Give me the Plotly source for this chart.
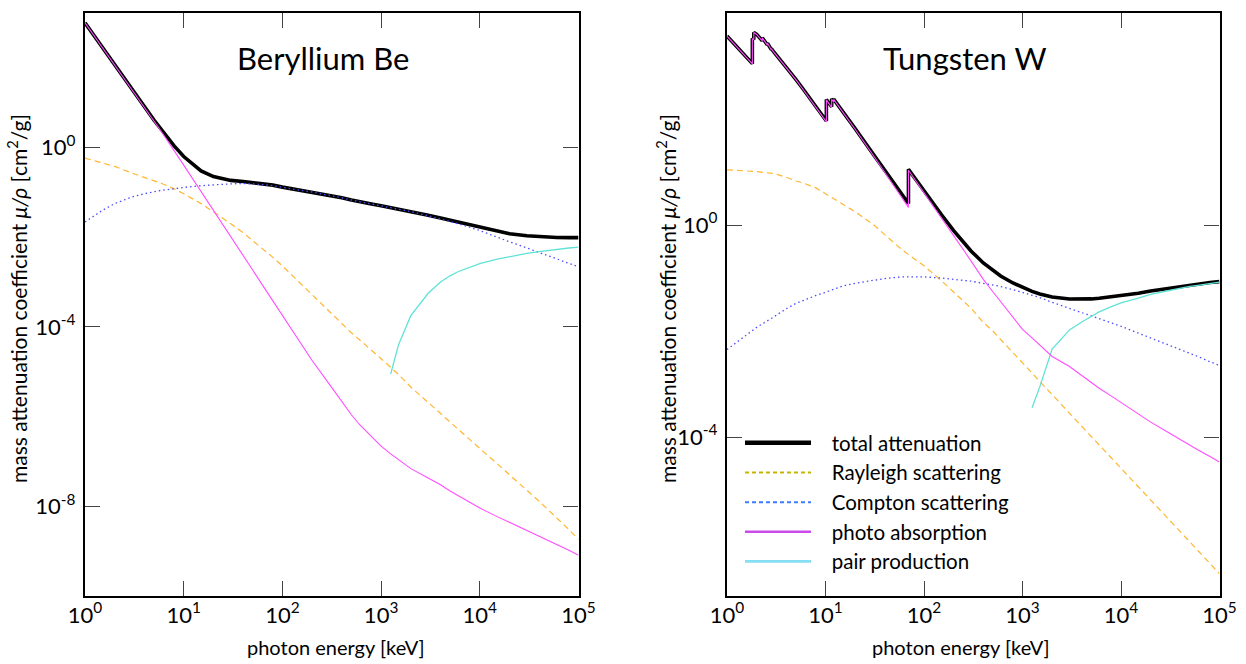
import plotly.graph_objects as go

# ---------------- data (photon energy in keV, mass attenuation in cm^2/g) ----------------
E = [1, 1.5, 2, 3, 4, 5, 6, 8, 10, 15, 20, 30, 40, 50, 60, 80, 100, 150, 200, 300, 400, 500,
     600, 800, 1000, 1250, 1500, 2000, 3000, 4000, 5000, 6000, 8000, 10000, 15000, 20000,
     30000, 40000, 50000, 60000, 80000, 100000]
E_pair = [1250, 1500, 2000, 3000, 4000, 5000, 6000, 8000, 10000, 15000, 20000,
          30000, 40000, 50000, 60000, 80000, 100000]

# Beryllium
be_total = [604, 170.5, 68.0, 19.4, 8.07, 4.09, 2.46, 1.09, 0.629, 0.302, 0.225, 0.185, 0.1745,
            0.165, 0.158, 0.145, 0.131, 0.113, 0.1024, 0.0873, 0.0760, 0.0677, 0.0617, 0.0550,
            0.0501, 0.0457, 0.0427, 0.0374, 0.0308, 0.0267, 0.0238, 0.0217, 0.0187, 0.0167,
            0.0135, 0.0120, 0.0108, 0.0103, 0.0100, 0.0099, 0.0098, 0.0098]
be_rayleigh = [0.579, 0.457, 0.380, 0.269, 0.219, 0.186, 0.158, 0.120, 0.0933, 0.0562, 0.0372,
               0.0200, 0.0126, 0.00851, 0.00603, 0.00355, 0.00229, 9.55e-4, 5.13e-4, 2.14e-4,
               1.15e-4, 7.41e-5, 5.25e-5, 3.09e-5, 1.95e-5, 1.26e-5, 8.71e-6, 4.57e-6, 2.04e-6,
               1.17e-6, 7.59e-7, 5.25e-7, 3.02e-7, 1.95e-7, 8.91e-8, 5.13e-8, 2.29e-8, 1.29e-8,
               8.13e-9, 5.62e-9, 3.02e-9, 1.82e-9]
be_compton = [0.0219, 0.0398, 0.0562, 0.0794, 0.0933, 0.105, 0.112, 0.120, 0.129, 0.141, 0.148,
              0.155, 0.158, 0.155, 0.151, 0.141, 0.129, 0.112, 0.102, 0.0871, 0.0759, 0.0676,
              0.0617, 0.0550, 0.0501, 0.0457, 0.0427, 0.0372, 0.0302, 0.0257, 0.0224, 0.0200,
              0.0166, 0.0141, 0.0100, 0.00794, 0.00575, 0.00457, 0.00372, 0.00324, 0.00257, 0.00219]
be_photo = [603, 170, 67.6, 19.1, 7.76, 3.80, 2.19, 0.851, 0.407, 0.105, 0.0398, 0.0102, 0.00389,
            0.00186, 0.00100, 3.80e-4, 1.82e-4, 4.68e-5, 1.78e-5, 5.25e-6, 2.19e-6, 1.10e-6,
            6.76e-7, 3.63e-7, 2.19e-7, 1.48e-7, 1.10e-7, 6.92e-8, 4.27e-8, 3.02e-8, 2.19e-8,
            1.74e-8, 1.17e-8, 9.12e-9, 5.89e-9, 4.37e-9, 2.95e-9, 2.19e-9, 1.74e-9, 1.45e-9,
            1.05e-9, 8.13e-10]
be_pair = [8.91e-6, 3.98e-5, 1.78e-4, 5.62e-4, 1.00e-3, 1.38e-3, 1.70e-3, 2.14e-3, 2.57e-3,
           3.24e-3, 3.72e-3, 4.37e-3, 4.79e-3, 5.13e-3, 5.37e-3, 5.75e-3, 6.03e-3]

# Tungsten (energy grid with absorption edges)
E_w = [1, 1.5, 1.8092, 1.8092, 1.8716, 1.8716, 2, 2.2813, 2.2813, 2.5749, 2.5749, 2.8196, 2.8196,
       3, 4, 5, 6, 8, 10, 10.2068, 10.2068, 11.544, 11.544, 12.0998, 12.0998, 15, 20, 30, 40,
       50, 60, 69.525, 69.525, 80, 100, 150, 200, 300, 400, 500, 600, 800, 1000, 1250, 1500,
       2000, 3000, 4000, 5000, 6000, 8000, 10000, 15000, 20000, 30000, 40000, 50000, 60000,
       80000, 100000]
w_total = [3683, 1643, 1108, 3300, 3150, 4300, 3950, 2990, 3400, 2490, 2690, 2040, 2140, 1820,
           960, 560, 356, 170, 96.9, 91.7, 233, 170, 240, 212, 237, 138.9, 65.7, 22.7, 10.67,
           5.95, 3.71, 2.55, 11.23, 7.81, 4.44, 1.58, 0.784, 0.324, 0.1925, 0.1378, 0.1093,
           0.0807, 0.0662, 0.0560, 0.0500, 0.0437, 0.0402, 0.0395, 0.0403, 0.0415, 0.0440,
           0.0470, 0.0515, 0.0570, 0.0640, 0.0695, 0.0732, 0.0760, 0.0820, 0.0855]
w_photo = [3672, 1632, 1097, 3289, 3139, 4289, 3940, 2980, 3390, 2480, 2680, 2030, 2130, 1810,
           951, 552, 349, 165, 93.0, 88.0, 229, 166, 236, 209, 234, 136.4, 64.1, 21.6, 9.9,
           5.37, 3.25, 2.15, 10.8, 7.45, 4.16, 1.40, 0.63, 0.21, 0.094, 0.055, 0.036, 0.0180,
           0.0107, 0.0074, 0.00537, 0.00331, 0.00214, 0.00145, 0.00107, 0.00083, 0.00059,
           4.47e-4, 2.63e-4, 1.91e-4, 1.23e-4, 8.91e-5, 7.08e-5, 5.75e-5, 4.27e-5, 3.39e-5]
w_rayleigh = [11.0, 10.7, 10.2, 9.33, 7.94, 6.76, 6.17, 5.01, 3.89, 2.45, 1.78, 1.05, 0.661,
              0.468, 0.339, 0.229, 0.170, 0.0891, 0.0550, 0.0269, 0.0145, 0.0100, 0.00692,
              0.00389, 0.00251, 0.00162, 0.00112, 6.31e-4, 2.82e-4, 1.58e-4, 1.02e-4, 7.08e-5,
              3.98e-5, 2.57e-5, 1.15e-5, 6.46e-6, 2.88e-6, 1.62e-6, 1.05e-6, 7.24e-7, 4.07e-7,
              2.63e-7]
w_compton = [0.00447, 0.00794, 0.0117, 0.0186, 0.0263, 0.0331, 0.0380, 0.0468, 0.0537, 0.0708,
             0.0794, 0.0912, 0.0977, 0.102, 0.105, 0.105, 0.105, 0.100, 0.0955, 0.0871, 0.0794,
             0.0741, 0.0692, 0.0603, 0.0537, 0.0468, 0.0427, 0.0347, 0.0269, 0.0224, 0.0195,
             0.0174, 0.0141, 0.0123, 0.00912, 0.00741, 0.00550, 0.00447, 0.00380, 0.00331,
             0.00263, 0.00224]
w_pair = [3.55e-4, 8.91e-4, 4.57e-3, 0.0105, 0.0148, 0.0191, 0.0229, 0.0288, 0.0339, 0.0417,
          0.0490, 0.0575, 0.0646, 0.0692, 0.0724, 0.0794, 0.0832]

titles = ["Beryllium Be", "Tungsten W"]
legend_names = ["total attenuation", "Rayleigh scattering", "Compton scattering",
                "photo absorption", "pair production"]
x_label = "photon energy [keV]"
y_label = "mass attenuation coefficient <i>μ/ρ</i> [cm<sup>2</sup>/g]"
x_ticks = [1, 10, 100, 1000, 10000, 100000]
x_ticktext = ["10<sup>0</sup>", "10<sup>1</sup>", "10<sup>2</sup>", "10<sup>3</sup>",
              "10<sup>4</sup>", "10<sup>5</sup>"]
y_ticks_be = [1e-8, 1e-4, 1]
y_ticktext_be = ["10<sup>-8</sup>", "10<sup>-4</sup>", "10<sup>0</sup>"]
y_ticks_w = [1e-4, 1, 1e4]
y_ticktext_w = ["10<sup>-4</sup>", "10<sup>0</sup>", "10<sup>4</sup>"]

# ---------------- styles ----------------
FONT = "Lato, 'Open Sans', sans-serif"
st_total = dict(color="black", width=3.6)
st_ray = dict(color="#ffb631", width=1.2, dash="6px,4px")
st_comp = dict(color="#4a4aff", width=1.3, dash="1.5px,3px")
st_photo = dict(color="#ff4dff", width=1.1)
st_pair = dict(color="#5fe3d6", width=1.3)
lg_styles = [dict(color="black", width=4.5),
             dict(color="#c8b400", width=2, dash="4px,3px"),
             dict(color="#3f7bff", width=2, dash="4px,3px"),
             dict(color="#c94ce8", width=2.6),
             dict(color="#86def2", width=2.8)]

fig = go.Figure()

panels = [
    ("x", "y", E, be_total, E, be_rayleigh, E, be_compton, E, be_photo, E_pair, be_pair),
    ("x2", "y2", E_w, w_total, E, w_rayleigh, E, w_compton, E_w, w_photo, E_pair, w_pair),
]
for xa, ya, xt, yt, xr, yr, xc, yc, xp, yp, xq, yq in panels:
    fig.add_trace(go.Scatter(x=xt, y=yt, mode="lines", line=st_total, xaxis=xa, yaxis=ya,
                             showlegend=False, hoverinfo="skip"))
    fig.add_trace(go.Scatter(x=xr, y=yr, mode="lines", line=st_ray, xaxis=xa, yaxis=ya,
                             showlegend=False, hoverinfo="skip"))
    fig.add_trace(go.Scatter(x=xc, y=yc, mode="lines", line=st_comp, xaxis=xa, yaxis=ya,
                             showlegend=False, hoverinfo="skip"))
    fig.add_trace(go.Scatter(x=xq, y=yq, mode="lines", line=st_pair, xaxis=xa, yaxis=ya,
                             showlegend=False, hoverinfo="skip"))
    fig.add_trace(go.Scatter(x=xp, y=yp, mode="lines", line=st_photo, xaxis=xa, yaxis=ya,
                             showlegend=False, hoverinfo="skip"))

# legend entries (styled like the original key)
PAD = "\u00a0\u00a0\u00a0"
for name, ls in zip(legend_names, lg_styles):
    fig.add_trace(go.Scatter(x=[None], y=[None], mode="lines", line=ls, name=PAD + name,
                             xaxis="x2", yaxis="y2"))

W, H = 1246, 664
dom_x1 = [85 / W, 578.5 / W]
dom_x2 = [727 / W, 1219.5 / W]
dom_y = [1 - 596 / H, 1 - 13 / H]

axis_common = dict(type="log", showgrid=False, zeroline=False, showline=True, linecolor="black",
                   linewidth=2.4, mirror="allticks", ticks="inside", ticklen=15, tickwidth=1.3,
                   tickcolor="#444", automargin=False,
                   tickfont=dict(family=FONT, size=22, color="black"))
x_extra = dict(ticklabelstandoff=-2)
y_extra = dict(ticklabelstandoff=3)

fig.update_layout(
    width=W, height=H, margin=dict(l=0, r=0, t=0, b=0, autoexpand=False),
    paper_bgcolor="white", plot_bgcolor="white",
    font=dict(family=FONT, color="black"),
    xaxis=dict(axis_common, **x_extra, domain=dom_x1, range=[0, 5], tickvals=x_ticks,
               ticktext=x_ticktext, anchor="y"),
    yaxis=dict(axis_common, **y_extra, domain=dom_y, range=[-10, 3], tickvals=y_ticks_be,
               ticktext=y_ticktext_be, anchor="x"),
    xaxis2=dict(axis_common, **x_extra, domain=dom_x2, range=[0, 5], tickvals=x_ticks,
                ticktext=x_ticktext, anchor="y2"),
    yaxis2=dict(axis_common, **y_extra, domain=dom_y, range=[-7, 4], tickvals=y_ticks_w,
                ticktext=y_ticktext_w, anchor="x2"),
    legend=dict(x=740 / W, y=1 - 423 / H, xanchor="left", yanchor="top",
                bgcolor="rgba(0,0,0,0)", font=dict(family=FONT, size=20.5, color="black"),
                itemwidth=66, tracegroupgap=0),
    showlegend=True,
)

# panel titles
fig.add_annotation(text=titles[0], xref="paper", yref="paper", x=323 / W, y=1 - 58 / H,
                   xanchor="center", yanchor="middle", showarrow=False,
                   font=dict(family=FONT, size=31, color="black"))
fig.add_annotation(text=titles[1], xref="paper", yref="paper", x=965 / W, y=1 - 58 / H,
                   xanchor="center", yanchor="middle", showarrow=False,
                   font=dict(family=FONT, size=31, color="black"))
# axis titles
for xc_ in (336 / W, 961 / W):
    fig.add_annotation(text=x_label, xref="paper", yref="paper", x=xc_, y=1 - 647 / H,
                       xanchor="center", yanchor="middle", showarrow=False,
                       font=dict(family=FONT, size=20, color="black"))
for xc_ in (17 / W, 666 / W):
    fig.add_annotation(text=y_label, xref="paper", yref="paper", x=xc_, y=1 - 299 / H,
                       xanchor="center", yanchor="middle", textangle=-90, showarrow=False,
                       font=dict(family=FONT, size=21, color="black"))

fig.write_html("out.html")
